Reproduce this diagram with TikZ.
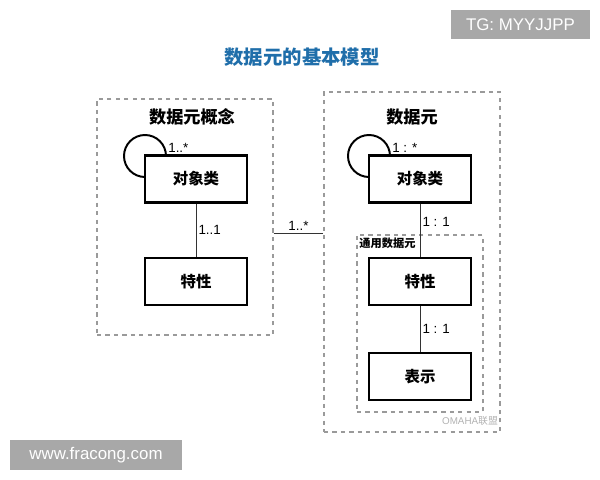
\documentclass[tikz,border=0pt]{standalone}
\usepackage{fontspec}
\setmainfont{Liberation Sans}
\newfontfamily\cjk{Noto Sans CJK SC}
\usepackage{tikz}
\usetikzlibrary{positioning}
\usetikzlibrary{calc}
\definecolor{titleblue}{HTML}{1F6EAA}
\definecolor{grpgray}{HTML}{9A9A9A}
\definecolor{markgray}{HTML}{A8A8A8}

\begin{document}
\begin{tikzpicture}[
  cls/.style={
    rectangle,
    draw=black,
    line width=1.5pt,
    fill=white,
    minimum width=2.55cm,
    minimum height=1.175cm,
    font=\cjk\bfseries\fontsize{11}{13}\selectfont},
  selfloop/.style={
    circle,
    draw=black,
    line width=1.4pt,
    minimum size=1.05cm,
    inner sep=0pt},
  grp/.style 2 args={
    rectangle,
    draw=grpgray,
    dashed,
    line width=1pt,
    minimum width=#1,
    minimum height=#2},
  link/.style={
    draw=black!80,
    line width=0.6pt},
  mult/.style={
    font=\fontsize{9.5}{11}\selectfont,
    inner sep=1.5pt},
  wmark/.style={
    fill=markgray,
    text=white,
    font=\fontsize{12}{14}\selectfont,
    inner sep=0pt},
]

  \useasboundingbox (0,0) rectangle (15,-12);

  % Title
  \node[text=titleblue,font=\cjk\bfseries\fontsize{13.8}{16}\selectfont]
    (title) at (7.55,-1.425) {数据元的基本模型};

  % Dashed groups
  \node[grp={4.4cm}{5.9cm}] (grpL) at (4.625,-5.425) {};
  \node[grp={4.4cm}{8.5cm}] (grpR) at (10.3,-6.55) {};
  \node[grp={3.15cm}{4.425cm}] (grpI) at (10.5,-8.0875) {};

  \node[font=\cjk\bfseries\fontsize{12.2}{15}\selectfont]
    (titleL) at (4.8,-2.925) {数据元概念};
  \node[font=\cjk\bfseries\fontsize{12.2}{15}\selectfont]
    (titleR) at (10.3,-2.925) {数据元};
  \node[anchor=north west,inner sep=2pt,font=\cjk\bfseries\fontsize{8}{10}\selectfont]
    (titleI) at (grpI.north west) {通用数据元};

  % Self loops (drawn under the boxes)
  \node[selfloop] (loopL) at (3.625,-3.9) {};
  \node[selfloop] (loopR) at (9.225,-3.9) {};

  % Classes
  \node[cls] (objL) at (4.9,-4.475) {对象类};
  \node[cls] (propL) at (4.9,-7.0375) {特性};
  \node[cls] (objR) at (10.5,-4.475) {对象类};
  \node[cls] (propR) at (10.5,-7.0375) {特性};
  \node[cls] (reprR) at (10.5,-9.4125) {表示};

  \node[mult,anchor=south west] (mloopL) at ([xshift=5.5mm]objL.north west) {1..*};
  \node[mult,anchor=south west] (mloopR) at ([xshift=5.5mm]objR.north west) {1 : *};

  % Associations
  \draw[link] (objL.south) -- node[mult,right] {1..1} (propL.north);
  \draw[link] (objR.south) -- node[mult,right,pos=0.35] {1 : 1} (propR.north);
  \draw[link] (propR.south) -- node[mult,right] {1 : 1} (reprR.north);
  \draw[link] ([yshift=-4mm]grpL.east) --
    node[mult,above] {1..*} ([yshift=-4mm]grpL.east -| grpR.west);

  % Marks
  \node[wmark,minimum width=3.475cm,minimum height=0.725cm]
    (tgmark) at (13.01,-0.61) {TG: MYYJJPP};
  \node[wmark,minimum width=4.3cm,minimum height=0.75cm]
    (urlmark) at (2.4,-11.375) {www.fracong.com};
  \node[text=black!30,font=\fontsize{7}{8}\selectfont,inner sep=0pt]
    (omark) at (11.75,-10.52) {OMAHA{\cjk 联盟}};

\end{tikzpicture}
\end{document}
